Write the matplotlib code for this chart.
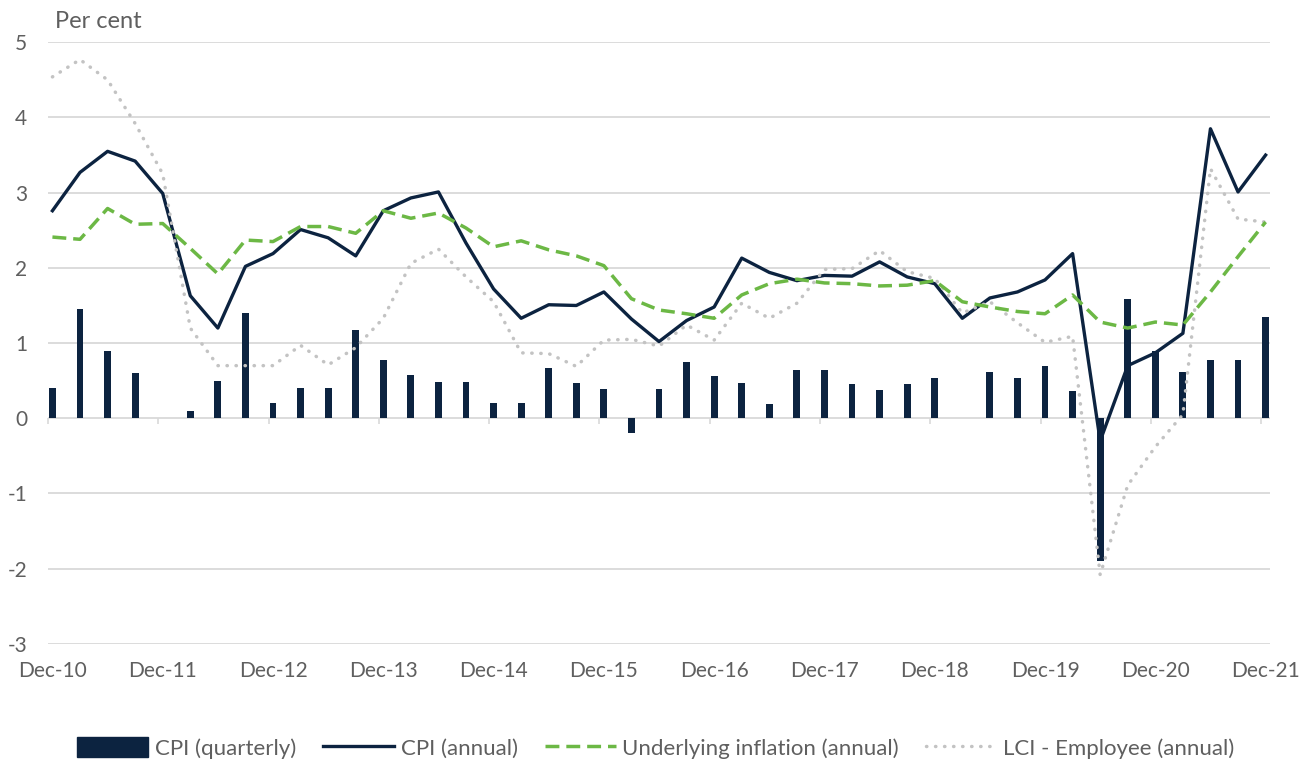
import numpy as np
import matplotlib.pyplot as plt
from matplotlib.patches import Patch
from matplotlib.lines import Line2D

plt.rcParams['font.family'] = ['Lato', 'DejaVu Sans']
plt.rcParams['axes.unicode_minus'] = False

# quarterly dates, Dec-10 .. Dec-21
quarters = [f'{m}-{y:02d}' for y in range(10, 22) for m in ('Mar', 'Jun', 'Sep', 'Dec')][3:]
tick_labels = [f'Dec-{y}' for y in range(10, 22)]

cpi_quarterly = [0.4, 1.45, 0.9, 0.6, 0.0, 0.1, 0.5, 1.4, 0.2, 0.4, 0.4, 1.17, 0.78,
                 0.58, 0.48, 0.48, 0.2, 0.2, 0.67, 0.47, 0.39, -0.2, 0.39, 0.75, 0.56,
                 0.47, 0.19, 0.64, 0.64, 0.46, 0.37, 0.46, 0.54, 0.0, 0.62, 0.54, 0.70,
                 0.36, -1.9, 1.58, 0.9, 0.62, 0.78, 0.77, 1.35]
cpi_annual = [2.76, 3.27, 3.55, 3.42, 2.99, 1.63, 1.20, 2.02, 2.19, 2.51, 2.40, 2.16, 2.76,
              2.93, 3.01, 2.33, 1.72, 1.33, 1.51, 1.50, 1.68, 1.32, 1.02, 1.30, 1.48,
              2.13, 1.94, 1.83, 1.90, 1.89, 2.08, 1.88, 1.79, 1.33, 1.60, 1.68, 1.84,
              2.19, -0.3, 0.70, 0.87, 1.13, 3.85, 3.01, 3.50]
underlying = [2.41, 2.38, 2.79, 2.58, 2.59, 2.26, 1.92, 2.37, 2.35, 2.55, 2.55, 2.46, 2.76,
              2.66, 2.73, 2.53, 2.28, 2.36, 2.24, 2.16, 2.03, 1.59, 1.44, 1.39, 1.33,
              1.64, 1.79, 1.85, 1.80, 1.79, 1.76, 1.77, 1.83, 1.55, 1.48, 1.42, 1.39,
              1.64, 1.28, 1.20, 1.28, 1.24, 1.68, 2.15, 2.61]
lci_employee = [4.54, 4.77, 4.50, 3.92, 3.25, 1.20, 0.70, 0.70, 0.70, 0.97, 0.71, 0.94, 1.33,
                2.06, 2.25, 1.88, 1.55, 0.87, 0.86, 0.69, 1.04, 1.05, 0.96, 1.24, 1.04,
                1.53, 1.33, 1.53, 1.98, 1.99, 2.23, 1.95, 1.86, 1.40, 1.55, 1.27, 1.01,
                1.09, -2.08, -0.89, -0.38, 0.05, 3.32, 2.65, 2.61]

navy = '#0c2340'
green = '#6cb845'
grey = '#c3c3c3'
text_grey = '#5f5f5f'

x = np.arange(len(quarters))

fig = plt.figure(figsize=(13.12, 7.62), dpi=100)
ax = fig.add_axes([0.0366, 0.155, 0.9314, 0.7895])

ax.bar(x, cpi_quarterly, width=0.25, color=navy, zorder=2)
ax.plot(x, cpi_annual, color=navy, lw=2.4, zorder=3)
ax.plot(x, underlying, color=green, lw=2.5, dashes=(4, 2), zorder=4)
ax.plot(x, lci_employee, color=grey, lw=2.5, dashes=(0.1, 2.5),
        dash_capstyle='round', zorder=3)

ax.set_xlim(-0.16, 44.16)
ax.set_ylim(-3, 5)
ax.set_yticks(range(-3, 6))
ax.yaxis.grid(True, color='#d9d9d9', lw=1.3)
ax.set_axisbelow(True)
for s in ax.spines.values():
    s.set_visible(False)

ax.set_xticks(x[::4])
ax.set_xticklabels(tick_labels)
ax.tick_params(axis='x', length=0, pad=12, labelsize=15, labelcolor=text_grey)
ax.tick_params(axis='y', length=0, pad=15, labelsize=15, labelcolor=text_grey)

# tick marks sitting on the zero line
sec = ax.secondary_xaxis(3 / 8)
sec.set_xticks(x[::4] - 0.16)
sec.tick_params(axis='x', length=4, width=1.2, color='#d9d9d9', labelbottom=False)
sec.spines['bottom'].set_visible(False)

fig.text(55 / 1312, 1 - 22 / 762, 'Per cent', fontsize=17, color=text_grey, va='center')

handles = [Patch(facecolor=navy, edgecolor=navy),
           Line2D([], [], color=navy, lw=2.4),
           Line2D([], [], color=green, lw=2.5, dashes=(4, 2)),
           Line2D([], [], color=grey, lw=2.5, dashes=(0.1, 2.5), dash_capstyle='round')]
labels = ['CPI (quarterly)', 'CPI (annual)', 'Underlying inflation (annual)',
          'LCI - Employee (annual)']
fig.legend(handles, labels, loc='center', bbox_to_anchor=(0.5, 1 - 748 / 762), ncol=4,
           frameon=False, fontsize=16, handlelength=3.2, handleheight=1.0,
           handletextpad=0.3, columnspacing=1.2, labelcolor=text_grey)

fig.savefig('out.png', dpi=100)
